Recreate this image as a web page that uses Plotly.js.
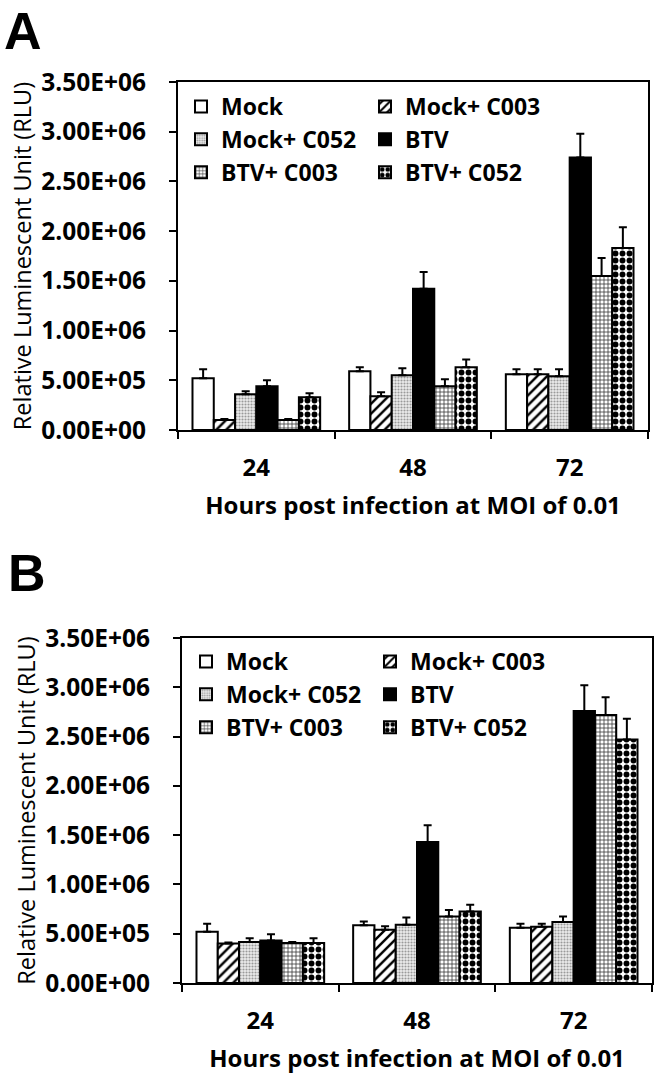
<!DOCTYPE html>
<html>
<head>
<meta charset="utf-8">
<script src="https://cdn.plot.ly/plotly-3.0.1.min.js"></script>
<style>html,body{margin:0;padding:0;background:#fff;}#chart{width:662px;height:1079px;}</style>
</head>
<body>
<div id="chart"></div>
<script>
// ---- data ----
const hours = ["24", "48", "72"];
const seriesNames = ["Mock", "Mock+ C003", "Mock+ C052", "BTV", "BTV+ C003", "BTV+ C052"];

// Panel A values (RLU) and upper error
const A_mock      = [5.2e5, 5.9e5, 5.6e5];
const A_mockC003  = [1.0e5, 3.4e5, 5.6e5];
const A_mockC052  = [3.6e5, 5.5e5, 5.4e5];
const A_btv       = [4.4e5, 1.42e6, 2.74e6];
const A_btvC003   = [1.0e5, 4.4e5, 1.55e6];
const A_btvC052   = [3.3e5, 6.3e5, 1.83e6];
const A_mockErr     = [0.9e5, 0.4e5, 0.5e5];
const A_mockC003Err = [0.1e5, 0.4e5, 0.5e5];
const A_mockC052Err = [0.3e5, 0.7e5, 0.7e5];
const A_btvErr      = [0.6e5, 1.7e5, 2.4e5];
const A_btvC003Err  = [0.1e5, 0.7e5, 1.8e5];
const A_btvC052Err  = [0.4e5, 0.8e5, 2.1e5];

// Panel B values (RLU) and upper error
const B_mock      = [5.2e5, 5.85e5, 5.6e5];
const B_mockC003  = [4.0e5, 5.4e5, 5.7e5];
const B_mockC052  = [4.15e5, 5.9e5, 6.2e5];
const B_btv       = [4.3e5, 1.43e6, 2.76e6];
const B_btvC003   = [4.05e5, 6.75e5, 2.72e6];
const B_btvC052   = [4.05e5, 7.25e5, 2.47e6];
const B_mockErr     = [0.8e5, 0.4e5, 0.4e5];
const B_mockC003Err = [0.1e5, 0.35e5, 0.3e5];
const B_mockC052Err = [0.4e5, 0.75e5, 0.55e5];
const B_btvErr      = [0.65e5, 1.7e5, 2.6e5];
const B_btvC003Err  = [0.1e5, 0.65e5, 1.8e5];
const B_btvC052Err  = [0.5e5, 0.7e5, 2.1e5];

const yTickVals = [0, 5e5, 1e6, 1.5e6, 2e6, 2.5e6, 3e6, 3.5e6];
const yTickText = ["0.00E+00", "5.00E+05", "1.00E+06", "1.50E+06", "2.00E+06", "2.50E+06", "3.00E+06", "3.50E+06"];
const yTitle = "Relative Luminescent Unit (RLU)";
const xTitle = "Hours post infection at MOI of 0.01";

// ---- styles ----
const FONT = "Open Sans, sans-serif";
const styles = [
  {color: "white", pattern: {shape: ""}},
  {color: "white", pattern: {shape: "/", fgcolor: "black", bgcolor: "white", size: 7, solidity: 0.35}},
  {color: "#e6e6e6", pattern: {shape: ".", fgcolor: "#9a9a9a", bgcolor: "#ececec", size: 3, solidity: 0.4}},
  {color: "black", pattern: {shape: ""}},
  {color: "white", pattern: {shape: "+", fgcolor: "#333", bgcolor: "white", size: 4, solidity: 0.35}},
  {color: "white", pattern: {shape: ".", fgcolor: "black", bgcolor: "white", size: 7, solidity: 0.55}}
];
// legend columns: first column shows series 0,2,4; second column 1,3,5
const legendColumn = [0, 1, 0, 1, 0, 1];

function makeTraces(vals, errs, xa, ya, legends) {
  return vals.map((v, i) => ({
    type: "bar",
    name: seriesNames[i],
    x: hours,
    y: v,
    xaxis: xa,
    yaxis: ya,
    legend: legends[legendColumn[i]],
    marker: {color: styles[i].color, pattern: styles[i].pattern, line: {color: "black", width: 2}},
    error_y: {type: "data", symmetric: false, array: errs[i], arrayminus: v.map(() => 0),
              color: "black", thickness: 2, width: 4}
  }));
}

const tracesA = makeTraces(
  [A_mock, A_mockC003, A_mockC052, A_btv, A_btvC003, A_btvC052],
  [A_mockErr, A_mockC003Err, A_mockC052Err, A_btvErr, A_btvC003Err, A_btvC052Err],
  "x", "y", ["legend", "legend2"]);
const tracesB = makeTraces(
  [B_mock, B_mockC003, B_mockC052, B_btv, B_btvC003, B_btvC052],
  [B_mockErr, B_mockC003Err, B_mockC052Err, B_btvErr, B_btvC003Err, B_btvC052Err],
  "x2", "y2", ["legend3", "legend4"]);

const W = 662, H = 1079;
function xaxisDef(l, r, anchor) {
  return {
    domain: [l / W, r / W], anchor: anchor, type: "category",
    tickson: "boundaries", ticks: "outside", ticklen: 7, tickwidth: 2, tickcolor: "black",
    showline: true, linewidth: 2, linecolor: "black", mirror: true,
    showgrid: false, zeroline: false, automargin: false,
    tickfont: {family: FONT, size: 24, color: "black", weight: "bold"},
    ticklabelstandoff: 15,
    title: {text: xTitle, font: {family: FONT, size: 24, color: "black", weight: "bold"}, standoff: 15}
  };
}
function yaxisDef(top, bottom, anchor) {
  return {
    domain: [1 - bottom / H, 1 - top / H], anchor: anchor, range: [0, 3.5e6],
    tickvals: yTickVals, ticktext: yTickText,
    ticks: "outside", ticklen: 7, tickwidth: 2, tickcolor: "black",
    showline: true, linewidth: 2, linecolor: "black", mirror: true,
    showgrid: false, zeroline: false, automargin: false,
    tickfont: {family: FONT, size: 24.5, color: "black", weight: "bold"},
    ticklabelstandoff: 18,
    title: {text: yTitle, font: {family: FONT, size: 23.5, color: "black"}, standoff: 3}
  };
}

const legendFont = {family: FONT, size: 23, color: "black", weight: "bold"};
function legendDef(xpx, ypx) {
  return {x: xpx / W, y: 1 - ypx / H, xanchor: "left", yanchor: "top", orientation: "v",
          font: legendFont, bgcolor: "rgba(0,0,0,0)", borderwidth: 0,
          traceorder: "normal", itemclick: false};
}
const layout = {
  width: W, height: H,
  margin: {l: 0, r: 0, t: 0, b: 0},
  paper_bgcolor: "white", plot_bgcolor: "white",
  barmode: "group", bargap: 0.185, bargroupgap: 0,
  xaxis: xaxisDef(178, 648, "y"),
  yaxis: yaxisDef(82, 430, "x"),
  xaxis2: xaxisDef(182, 652, "y2"),
  yaxis2: yaxisDef(638, 983, "x2"),
  legend: legendDef(181, 85),
  legend2: legendDef(365, 85),
  legend3: legendDef(186, 640),
  legend4: legendDef(370, 640),
  showlegend: true,
  annotations: [
    {text: "A", xref: "paper", yref: "paper", x: 2 / W, y: 1 - 0 / H, xanchor: "left", yanchor: "top",
     showarrow: false, font: {family: "Liberation Sans, Arial, sans-serif", size: 52, color: "black", weight: "bold"}},
    {text: "B", xref: "paper", yref: "paper", x: 6 / W, y: 1 - 542 / H, xanchor: "left", yanchor: "top",
     showarrow: false, font: {family: "Liberation Sans, Arial, sans-serif", size: 52, color: "black", weight: "bold"}}
  ]
};

Plotly.newPlot("chart", tracesA.concat(tracesB), layout, {staticPlot: true, displayModeBar: false});
</script>
</body>
</html>
